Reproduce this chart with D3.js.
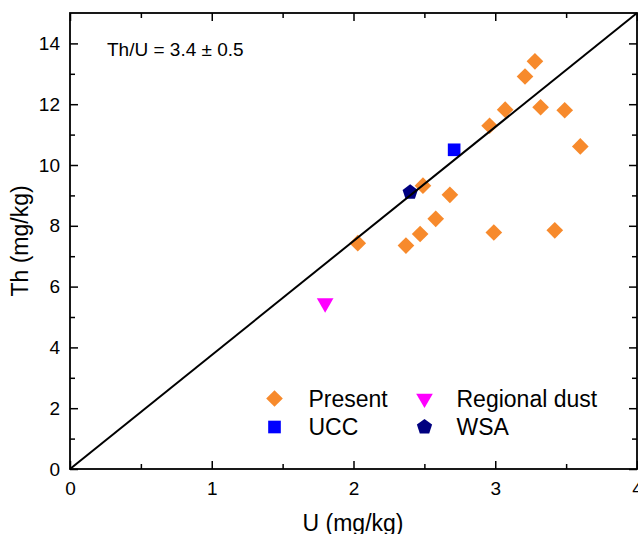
<!DOCTYPE html>
<html>
<head>
<meta charset="utf-8">
<script src="https://cdn.jsdelivr.net/npm/d3@7"></script>
<style>
  body { margin: 0; background: #fff; }
  svg { display: block; font-family: "Liberation Sans", Arial, sans-serif; }
</style>
</head>
<body>
<svg width="638" height="534"></svg>
<script>
// data
const presentU  = [3.28, 3.21, 3.07, 2.96, 3.32, 3.49, 3.60, 2.49, 2.68, 2.58, 2.47, 2.37, 2.03, 2.99, 3.42];
const presentTh = [13.41, 12.91, 11.82, 11.29, 11.9, 11.8, 10.61, 9.32, 9.02, 8.23, 7.73, 7.35, 7.43, 7.78, 7.85];
const uccU = [2.71], uccTh = [10.5];
const wsaU = [2.40], wsaTh = [9.1];
const dustU = [1.80], dustTh = [5.46];
const lineU = [0, 4], lineTh = [0, 15];
const xTicks = [0, 1, 2, 3, 4];
const yTicks = [0, 2, 4, 6, 8, 10, 12, 14];

const orange = "#f78a2c";

const svg = d3.select("svg");
const plotL = 70, plotR = 637, plotT = 13, plotB = 469;

const x = d3.scaleLinear().domain([0, 4]).range([plotL, plotR]);
const y = d3.scaleLinear().domain([0, 15]).range([plotB, plotT]);

// axes (ticks all point inward)
const xMinor = d3.range(0.5, 4, 1);
const yMinor = d3.range(1, 15, 2);

function styleAxis(g) {
  g.select(".domain").remove();
  g.selectAll("line").attr("stroke", "#000").attr("stroke-width", 1.5);
  g.selectAll("text").attr("fill", "#000").style("font-size", "19px").style("font-family", "inherit");
}

svg.append("g").attr("transform", `translate(0,${plotB})`)
  .call(d3.axisBottom(x).tickValues(xTicks).tickFormat(d3.format("d")).tickSize(-8).tickPadding(13))
  .call(styleAxis);
svg.append("g").attr("transform", `translate(0,${plotB})`)
  .call(d3.axisBottom(x).tickValues(xMinor).tickFormat("").tickSize(-5)).call(styleAxis);
svg.append("g").attr("transform", `translate(0,${plotT})`)
  .call(d3.axisTop(x).tickValues(xTicks).tickFormat("").tickSize(-8)).call(styleAxis);
svg.append("g").attr("transform", `translate(0,${plotT})`)
  .call(d3.axisTop(x).tickValues(xMinor).tickFormat("").tickSize(-5)).call(styleAxis);

svg.append("g").attr("transform", `translate(${plotL},0)`)
  .call(d3.axisLeft(y).tickValues(yTicks).tickSize(-8).tickPadding(10))
  .call(styleAxis);
svg.append("g").attr("transform", `translate(${plotL},0)`)
  .call(d3.axisLeft(y).tickValues(yMinor).tickFormat("").tickSize(-5)).call(styleAxis);
svg.append("g").attr("transform", `translate(${plotR},0)`)
  .call(d3.axisRight(y).tickValues(yTicks).tickFormat("").tickSize(-8)).call(styleAxis);
svg.append("g").attr("transform", `translate(${plotR},0)`)
  .call(d3.axisRight(y).tickValues(yMinor).tickFormat("").tickSize(-5)).call(styleAxis);

svg.append("rect")
  .attr("x", plotL).attr("y", plotT)
  .attr("width", plotR - plotL).attr("height", plotB - plotT)
  .attr("fill", "none").attr("stroke", "#000").attr("stroke-width", 1.8);

// markers
const diamond = d3.symbol().type(d3.symbolSquare).size(139);
const square = d3.symbol().type(d3.symbolSquare).size(160);
const tri = d3.symbol().type(d3.symbolTriangle).size(120);
function pentagon(r) {
  const pts = d3.range(5).map(i => {
    const a = -Math.PI / 2 + i * 2 * Math.PI / 5;
    return [r * Math.cos(a), r * Math.sin(a)];
  });
  return "M" + pts.join("L") + "Z";
}

svg.append("g").selectAll("path")
  .data(d3.zip(presentU, presentTh))
  .join("path")
  .attr("d", diamond)
  .attr("fill", orange)
  .attr("transform", d => `translate(${x(d[0])},${y(d[1])}) rotate(45)`);

svg.append("g").selectAll("path")
  .data(d3.zip(uccU, uccTh))
  .join("path")
  .attr("d", square)
  .attr("fill", "#0000ff")
  .attr("transform", d => `translate(${x(d[0])},${y(d[1])})`);

svg.append("g").selectAll("path")
  .data(d3.zip(dustU, dustTh))
  .join("path")
  .attr("d", tri)
  .attr("fill", "#ff00ff")
  .attr("transform", d => `translate(${x(d[0])},${y(d[1])}) rotate(180)`);

svg.append("g").selectAll("path")
  .data(d3.zip(wsaU, wsaTh))
  .join("path")
  .attr("d", pentagon(8))
  .attr("fill", "#000080")
  .attr("transform", d => `translate(${x(d[0])},${y(d[1])})`);

// reference line
svg.append("path")
  .datum(d3.zip(lineU, lineTh))
  .attr("d", d3.line().x(d => x(d[0])).y(d => y(d[1])))
  .attr("stroke", "#000").attr("stroke-width", 2).attr("fill", "none");

// annotation
svg.append("text")
  .attr("x", 107).attr("y", 56)
  .style("font-size", "19px")
  .text("Th/U = 3.4 \u00b1 0.5");

// legend
const legend = [
  { name: "Present", col: 0, row: 0, d: diamond(), fill: orange, rot: 45 },
  { name: "UCC", col: 0, row: 1, d: square(), fill: "#0000ff", rot: 0 },
  { name: "Regional dust", col: 1, row: 0, d: tri(), fill: "#ff00ff", rot: 180 },
  { name: "WSA", col: 1, row: 1, d: pentagon(8), fill: "#000080", rot: 0 }
];
const lg = svg.append("g");
legend.forEach(l => {
  const mx = l.col ? 424.5 : 274.5, my = l.row ? 427 : 398.5;
  lg.append("path").attr("d", l.d).attr("fill", l.fill)
    .attr("transform", `translate(${mx},${my}) rotate(${l.rot})`);
  lg.append("text").attr("x", mx + (l.col ? 32 : 34)).attr("y", my + 8)
    .style("font-size", "23px").text(l.name);
});

// axis titles
svg.append("text")
  .attr("x", (plotL + plotR) / 2 - 0.5).attr("y", 531)
  .attr("text-anchor", "middle")
  .style("font-size", "23px")
  .text("U (mg/kg)");

svg.append("text")
  .attr("transform", "translate(28,241) rotate(-90)")
  .attr("text-anchor", "middle")
  .style("font-size", "23px")
  .text("Th (mg/kg)");
</script>
</body>
</html>
